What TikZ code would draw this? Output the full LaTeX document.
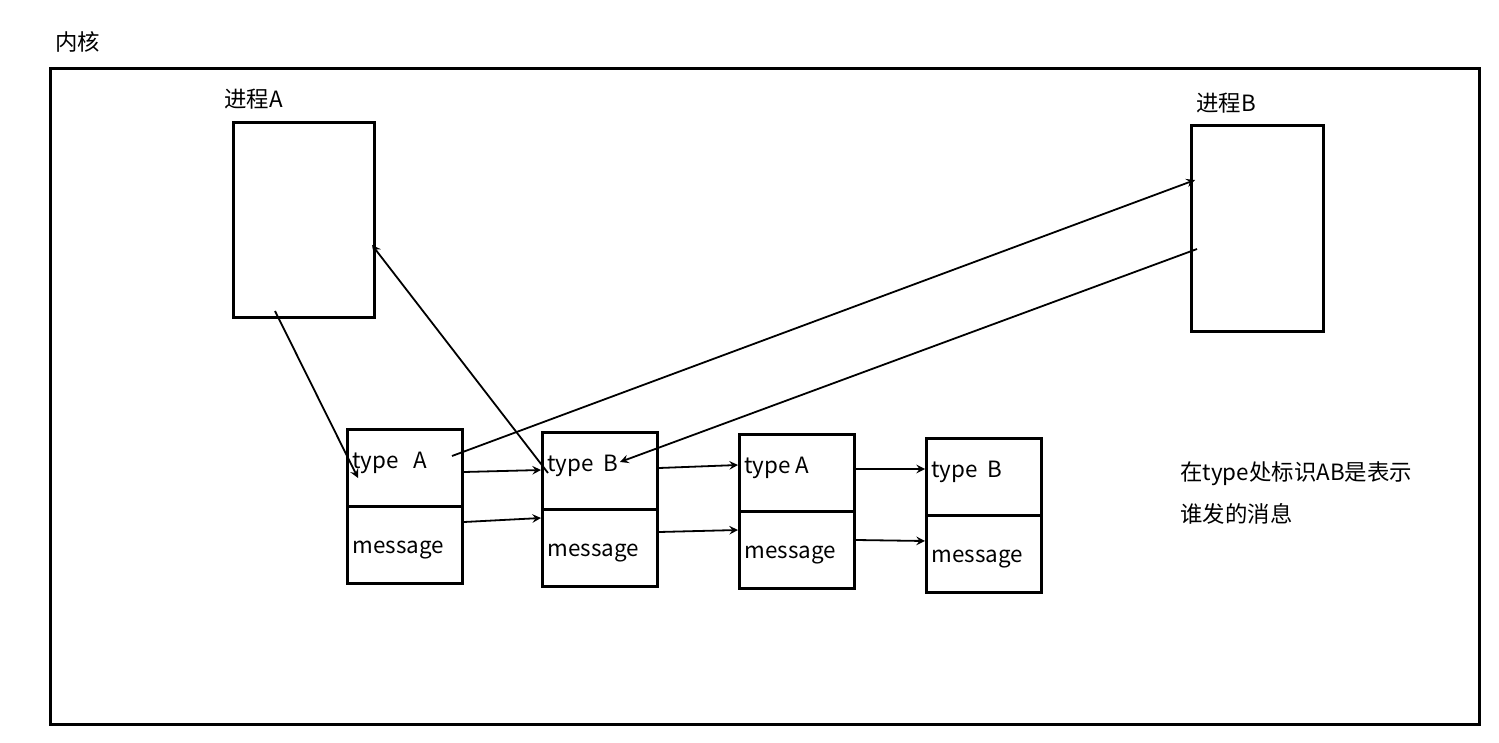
\documentclass[tikz,border=0pt]{standalone}
\usepackage{fontspec}
\setmainfont{Noto Sans CJK SC}
\begin{document}
\begin{tikzpicture}[x=0.5pt,y=-0.5pt,
  box/.style={draw,line width=1.5pt,inner sep=0pt,anchor=north west},
  half/.style={box,minimum width=57.5pt,minimum height=38.5pt},
  lab/.style={font=\fontsize{11.2}{13}\selectfont,anchor=west,inner sep=0pt},
  con/.style={line width=0.9pt,->,>=stealth}]
\useasboundingbox (0,0) rectangle (1499,743);
\node[lab] at (55,42) {内核};
\node[box,minimum width=714.5pt,minimum height=328pt] (k) at (49,67) {};
\node[box,minimum width=70.5pt,minimum height=97.5pt] (pa) at (232,121) {};
\node[lab] at (224,99) {进程A};
\node[box,minimum width=66pt,minimum height=103pt] (pb) at (1190,124) {};
\node[lab] at (1196,103) {进程B};
\foreach \i/\x/\y/\t in {1/346/428/{type\ \ \ A},2/541/431/{type\ \ B},3/738/433/{type\ A},4/925/437/{type\ \ B}}{
  \node[half] (t\i) at (\x,\y) {};
  \node[half] (m\i) at (\x,\y+77) {};
  \node[lab] at (\x+6,\y+35) {\t};
  \node[lab] at (\x+6,\y+122) {message};
}
\coordinate (a1) at (275,311); \coordinate (a2) at (358,478);
\coordinate (b1) at (548,473); \coordinate (b2) at (372,245);
\coordinate (c1) at (452,456); \coordinate (c2) at (1195,180);
\coordinate (d1) at (1197,249); \coordinate (d2) at (620,462);
\draw[con] (a1) -- (a2);
\draw[con] (b1) -- (b2);
\draw[con] (c1) -- (c2);
\draw[con] (d1) -- (d2);
\draw[con] (t1.east|-0,472) -- (t2.west|-0,470);
\draw[con] (m1.east|-0,522) -- (m2.west|-0,518);
\draw[con] (t2.east|-0,468) -- (t3.west|-0,465);
\draw[con] (m2.east|-0,532) -- (m3.west|-0,530);
\draw[con] (t3.east|-0,469) -- (t4.west|-0,469);
\draw[con] (m3.east|-0,540) -- (m4.west|-0,541);
\node[lab] at (1180,474) {在type处标识AB是表示};
\node[lab] at (1180,514) {谁发的消息};
\end{tikzpicture}
\end{document}
